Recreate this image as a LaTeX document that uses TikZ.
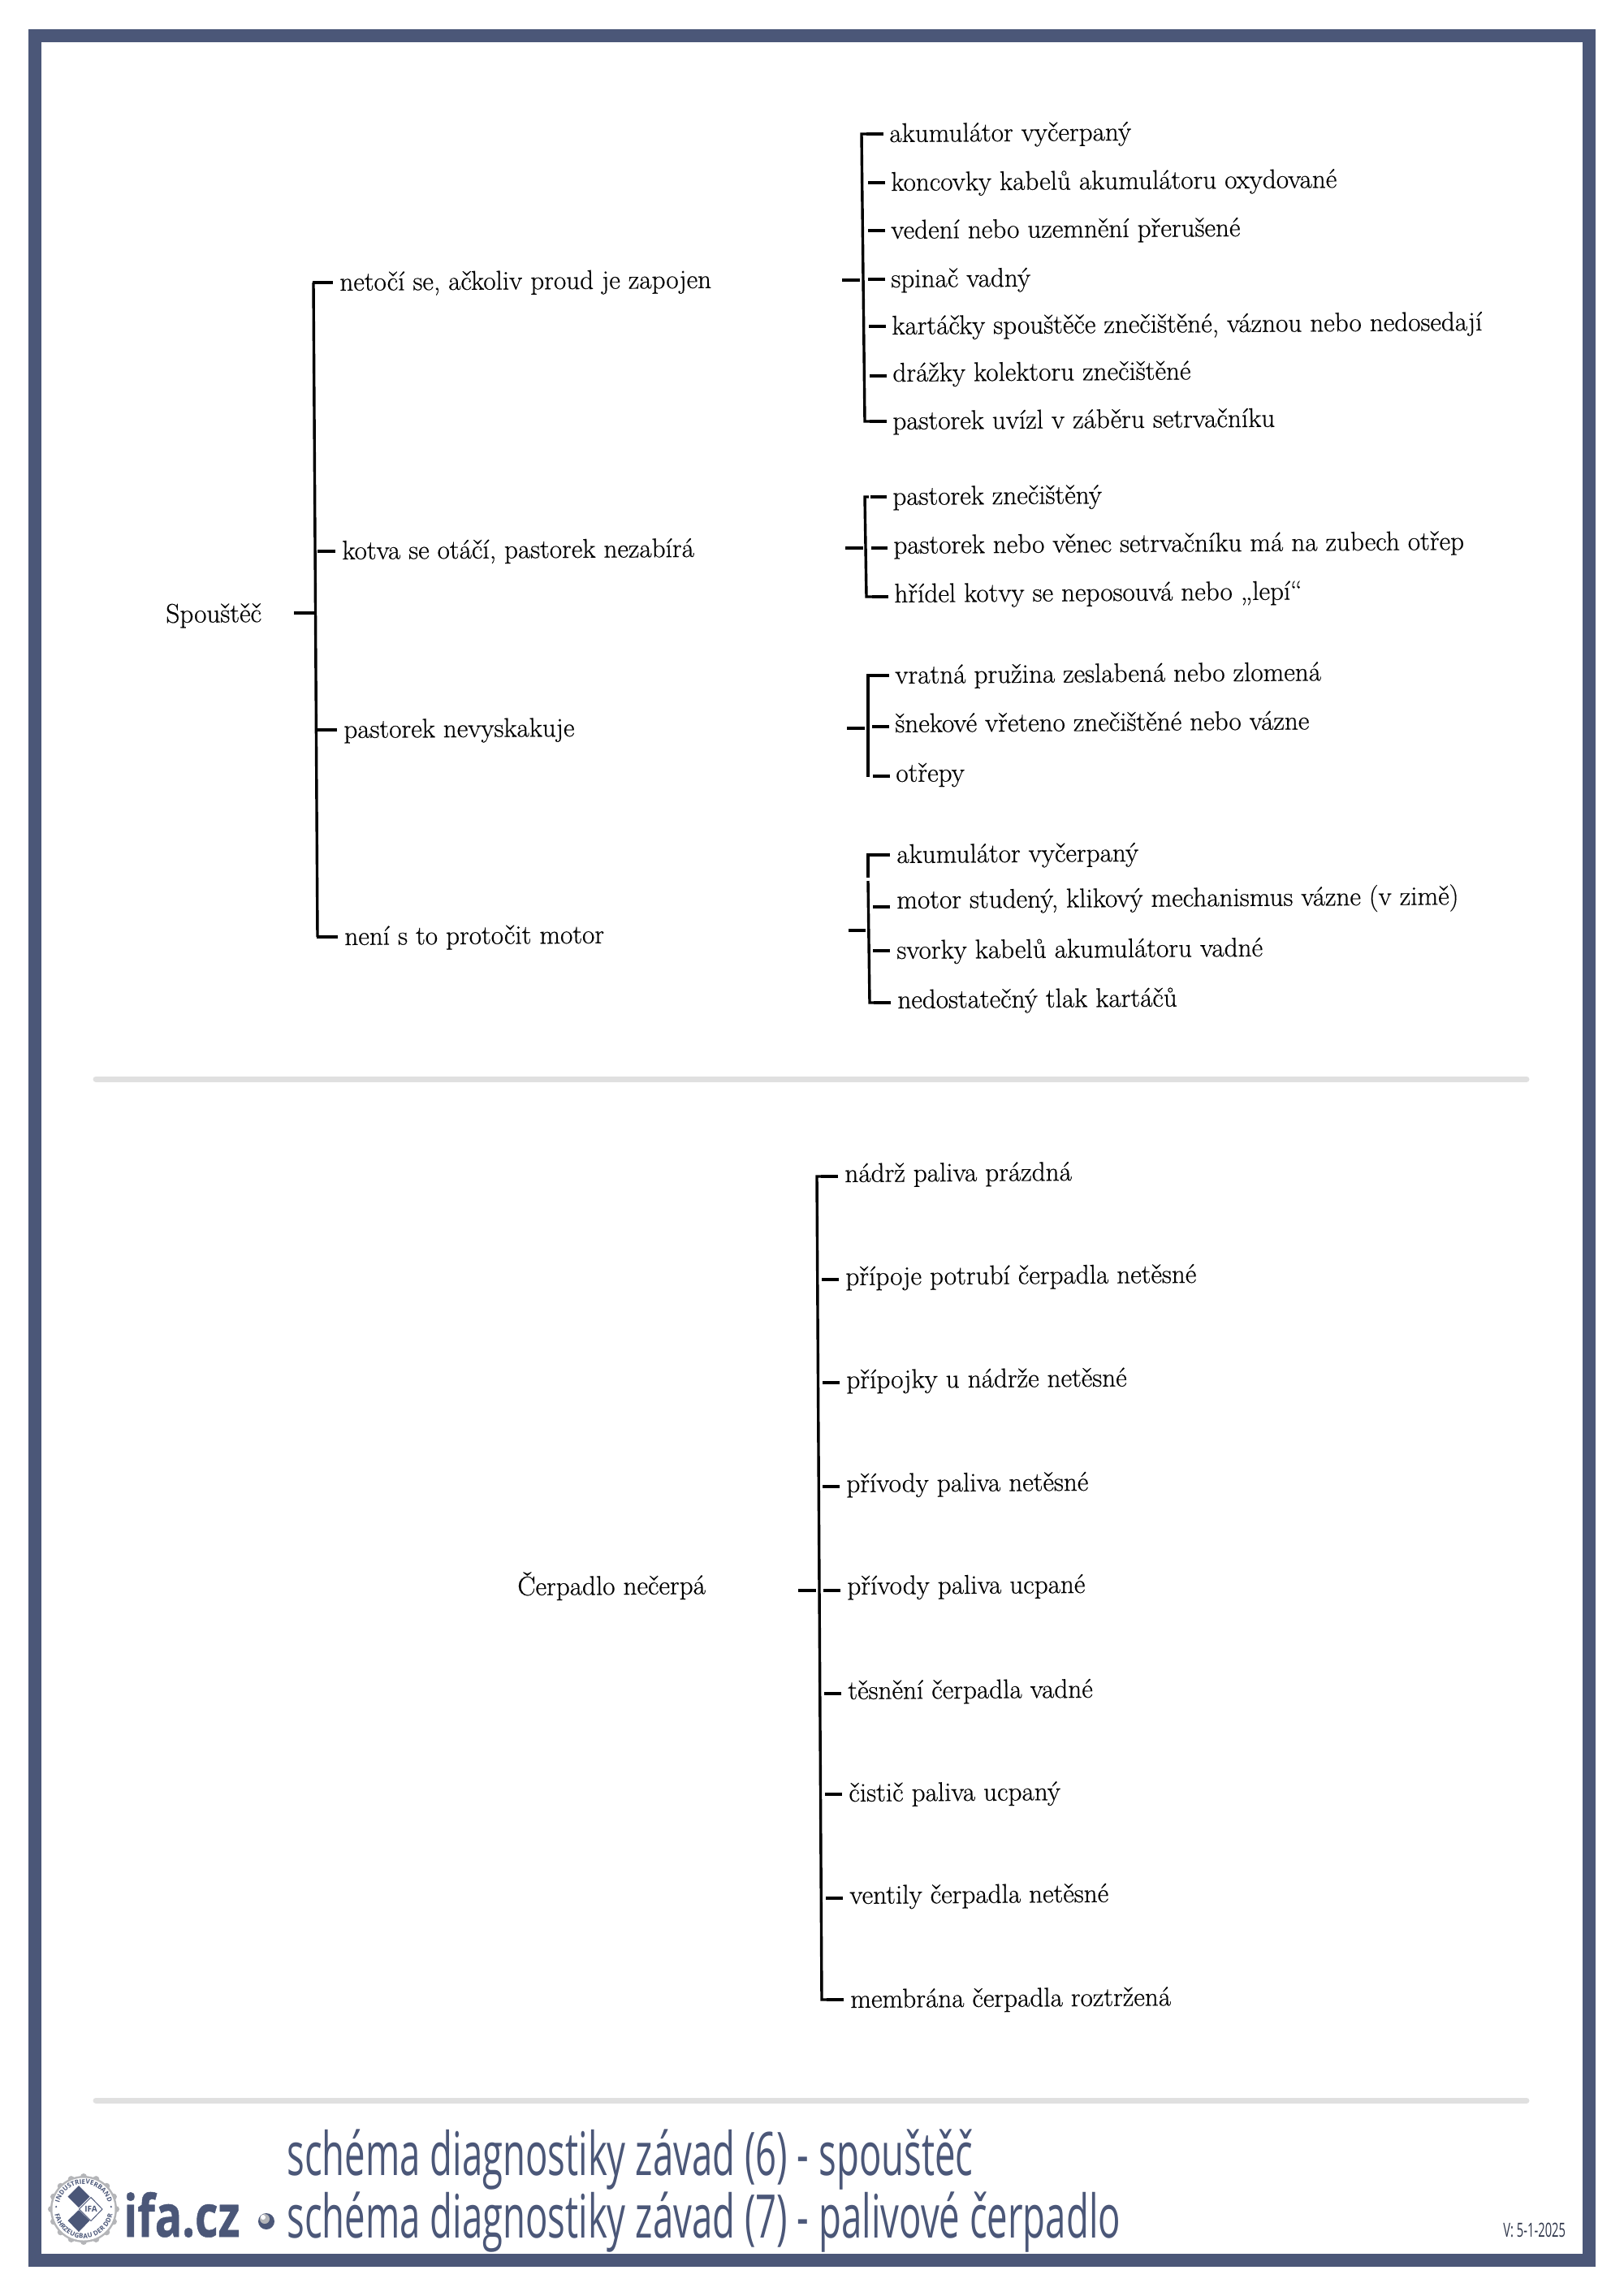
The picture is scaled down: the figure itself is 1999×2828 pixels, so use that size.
\documentclass[tikz,border=0pt]{standalone}
\usepackage{fontspec}
\usetikzlibrary{positioning, calc, decorations.text}
\setmainfont[FakeBold=0.5]{Latin Modern Roman}
\newfontfamily\titlefont[FakeStretch=0.615]{Open Sans}
\newfontfamily\logofont[FakeStretch=0.77, FakeBold=0.6]{Open Sans}
\newfontfamily\sealfont{Open Sans}
\definecolor{framecol}{HTML}{4B5778}
\definecolor{rulecol}{HTML}{E0E0E0}
\definecolor{sealcol}{HTML}{B4B5B8}

\begin{document}
\begin{tikzpicture}[
    x=0.5pt, y=-0.5pt,
    lbl/.style={anchor=west, inner sep=0pt, rotate=0.4, text height=11pt, text depth=4pt, font=\fontsize{16.6}{18}\selectfont, text=black},
    brk/.style={line width=1.7pt, black},
    tck/.style={line width=2.3pt, black},
    sepline/.style={line width=3.5pt, rulecol, line cap=round},
    titletxt/.style={anchor=base west, inner sep=0pt, text=framecol, font=\fontsize{37}{40}\titlefont}
]
\useasboundingbox (0,0) rectangle (1999,2828);
% frame
\draw[framecol, line width=8pt] (43,44) rectangle (1957,2784);

% starter
\node[lbl] (root) at (204,760) {Spouštěč};
\node[lbl] (a1) at (418,351) {netočí se, ačkoliv proud je zapojen};
\node[lbl] (a2) at (421,682) {kotva se otáčí, pastorek nezabírá};
\node[lbl] (a3) at (423,902) {pastorek nevyskakuje};
\node[lbl] (a4) at (424,1157) {není s to protočit motor};
\coordinate (rootj) at (388,755);
\draw[brk] (386,348) -- (391,1154);
\draw[tck] (385,348) -- ($(a1.west)+(-8,-3)$);
\draw[tck] (391,679) -- ($(a2.west)+(-8,-3)$);
\draw[tck] (390,899) -- ($(a3.west)+(-8,-3)$);
\draw[tck] (390,1154) -- ($(a4.west)+(-8,-3)$);
\draw[tck] (362,755) -- (rootj);

% group 1
\node[lbl] (b1) at (1095,168) {akumulátor vyčerpaný};
\node[lbl] (b2) at (1097,228) {koncovky kabelů akumulátoru oxydované};
\node[lbl] (b3) at (1097,287) {vedení nebo uzemnění přerušené};
\node[lbl] (b4) at (1097,347) {spinač vadný};
\node[lbl] (b5) at (1098,405) {kartáčky spouštěče znečištěné, váznou nebo nedosedají};
\node[lbl] (b6) at (1099,463) {drážky kolektoru znečištěné};
\node[lbl] (b7) at (1099,522) {pastorek uvízl v záběru setrvačníku};
\draw[brk] (1067,165) -- (1061,165) -- (1065,519) -- (1080,519);
\foreach \n in {b1,b2,b3,b4,b5,b7} \draw[tck] ($(\n.west)+(-7,-3)$) -- ++(-21,0);
\draw[tck] ($(b6.west)+(-7,0)$) -- ++(-21,0);
\draw[tck] (1037,345) -- (1059,345);

% group 2
\node[lbl] (c1) at (1099,615) {pastorek znečištěný};
\node[lbl] (c2) at (1100,675) {pastorek nebo věnec setrvačníku má na zubech otřep};
\node[lbl] (c3) at (1101,735) {hřídel kotvy se neposouvá nebo „lepí“};
\draw[brk] (1070,612) -- (1065,612) -- (1067,735) -- (1080,735);
\draw[tck] ($(c1.west)+(-7,-3)$) -- ++(-20,0);
\foreach \n in {c2,c3} \draw[tck] ($(\n.west)+(-7,0)$) -- ++(-20,0);
\draw[tck] (1041,675) -- (1063,675);

% group 3
\node[lbl] (d1) at (1102,835) {vratná pružina zeslabená nebo zlomená};
\node[lbl] (d2) at (1102,895) {šnekové vřeteno znečištěné nebo vázne};
\node[lbl] (d3) at (1103,956) {otřepy};
\draw[brk] (1080,832) -- (1069,832) -- (1069,957);
\draw[tck] ($(d1.west)+(-7,-3)$) -- ++(-21,0);
\foreach \n in {d2,d3} \draw[tck] ($(\n.west)+(-7,0)$) -- ++(-21,0);
\draw[tck] (1043,897) -- (1065,897);

% group 4
\node[lbl] (e1) at (1104,1056) {akumulátor vyčerpaný};
\node[lbl] (e2) at (1104,1112) {motor studený, klikový mechanismus vázne (v zimě)};
\node[lbl] (e3) at (1104,1174) {svorky kabelů akumulátoru vadné};
\node[lbl] (e4) at (1105,1235) {nedostatečný tlak kartáčů};
\draw[brk] (1078,1053) -- (1069,1053) -- (1069,1081);
\draw[brk] (1069,1085) -- (1071,1235) -- (1084,1235);
\draw[tck] ($(e1.west)+(-8,-3)$) -- ++(-21,0);
\draw[tck] ($(e2.west)+(-8,5)$) -- ++(-21,0);
\draw[tck] ($(e3.west)+(-8,-3)$) -- ++(-21,0);
\draw[tck] ($(e4.west)+(-8,0)$) -- ++(-21,0);
\draw[tck] (1045,1146) -- (1066,1146);

\draw[sepline] (118,1329) -- (1880,1329);

% pump
\node[lbl] (pump) at (637,1958) {Čerpadlo nečerpá};
\node[lbl] (p1) at (1040,1449) {nádrž paliva prázdná};
\node[lbl] (p2) at (1041,1576) {přípoje potrubí čerpadla netěsné};
\node[lbl] (p3) at (1042,1703) {přípojky u nádrže netěsné};
\node[lbl] (p4) at (1042,1831) {přívody paliva netěsné};
\node[lbl] (p5) at (1043,1957) {přívody paliva ucpané};
\node[lbl] (p6) at (1044,2086) {těsnění čerpadla vadné};
\node[lbl] (p7) at (1045,2212) {čistič paliva ucpaný};
\node[lbl] (p8) at (1046,2338) {ventily čerpadla netěsné};
\node[lbl] (p9) at (1047,2466) {membrána čerpadla roztržená};
\draw[brk] (1014,1449) -- (1006,1449) -- (1012,2463) -- (1020,2463);
\foreach \n in {p1,p2,p3,p4,p6,p8} \draw[tck] ($(\n.west)+(-8,0)$) -- ++(-21,0);
\draw[tck] ($(p5.west)+(-8,2)$) -- ++(-21,0);
\draw[tck] ($(p7.west)+(-8,-2)$) -- ++(-21,0);
\draw[tck] ($(p9.west)+(-8,-3)$) -- ++(-21,0);
\draw[tck] (983,1959) -- (1005,1959);

\draw[sepline] (118,2587) -- (1880,2587);

% footer
\node[titletxt] (t1) at (353,2679) {schéma diagnostiky závad (6) - spouštěč};
\node[titletxt] (t2) at (353,2756) {schéma diagnostiky závad (7) - palivové čerpadlo};
\node[anchor=base west, inner sep=0pt, text=framecol!60!black, font=\fontsize{12}{13}\titlefont] (ver) at (1851,2755) {V: 5-1-2025};
\node[anchor=base west, inner sep=0pt, text=framecol, font=\fontsize{36}{40}\logofont\bfseries] (ifa) at (152,2755) {ifa.cz};
\fill[framecol] (328,2736) circle (10);
\fill[sealcol] (326,2733) circle (6);
\fill[white] (324,2731) circle (3);

% seal
\begin{scope}[shift={(103,2721)}, y=0.5pt]
\foreach \a in {0,22.5,...,337.5}
  \fill[sealcol] (\a:40) circle (4);
\fill[sealcol] (0,0) circle (41);
\fill[white] (0,0) circle (38.5);
\fill[framecol] (-6,-1) -- (7.5,-14) -- (-6,-28) -- (-19.5,-14) -- cycle;
\fill[framecol] (-6,29) -- (7.5,15.5) -- (-6,2) -- (-19.5,15.5) -- cycle;
\draw[framecol, fill=white, line width=0.5pt] (-5.5,0) -- (9,14.5) -- (23,0) -- (9,-14.5) -- cycle;
\node[inner sep=0pt, text=framecol, font=\fontsize{5}{5}\sealfont\bfseries] (ifalogo) at (9,0) {IFA};
\fill[framecol] (175:34) circle (1.2);
\fill[framecol] (5:34) circle (1.2);
\path[decorate, decoration={text along path, text align={fit to path}, text={|\fontsize{4}{4}\sealfont\bfseries\color{framecol}|INDUSTRIEVERBAND}}]
  (165:31) arc[start angle=165, end angle=15, radius=31];
\path[decorate, decoration={text along path, text align={fit to path}, text={|\fontsize{4}{4}\sealfont\bfseries\color{framecol}|FAHRZEUGBAU DER DDR}}]
  (-170:36) arc[start angle=-170, end angle=-10, radius=36];
\end{scope}
\end{tikzpicture}
\end{document}
